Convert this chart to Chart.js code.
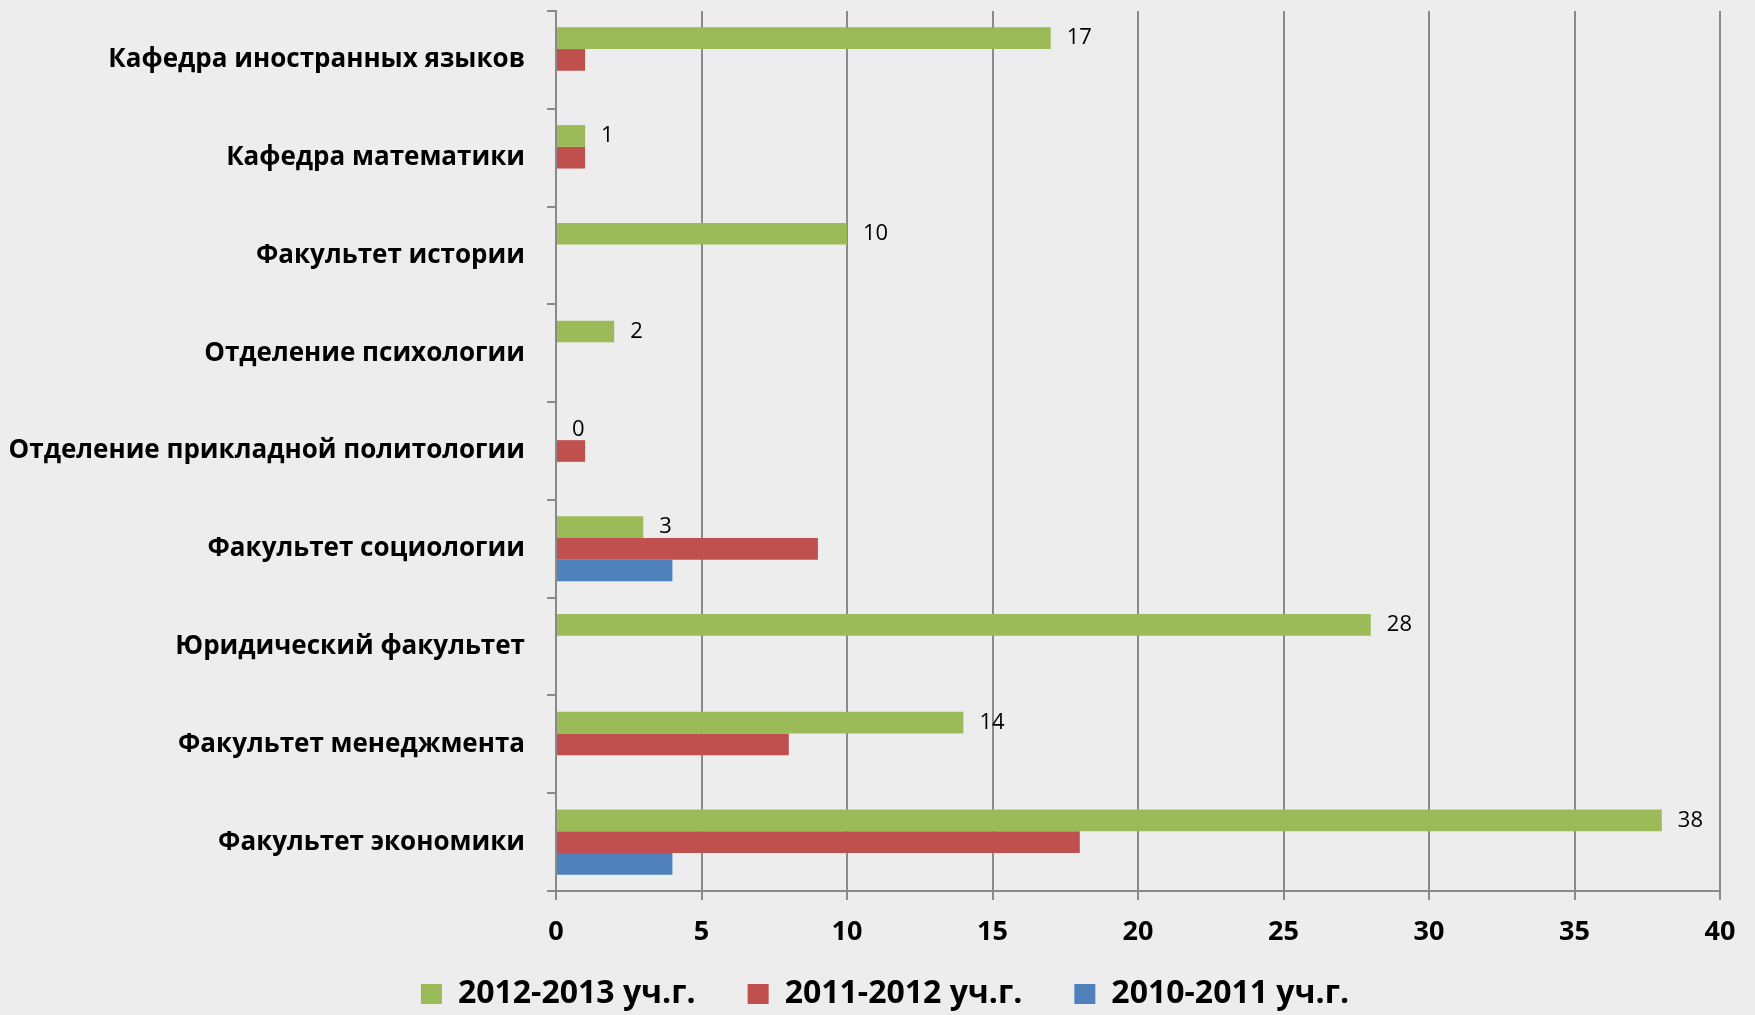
<!DOCTYPE html>
<html>
<head>
<meta charset="utf-8">
<script src="https://cdn.jsdelivr.net/npm/chart.js@4.4.1/dist/chart.umd.min.js"></script>
<style>
html,body{margin:0;padding:0;background:#ededed;}
#wrap{width:1755px;height:1015px;position:relative;}
</style>
</head>
<body>
<div id="wrap"><canvas id="c" width="1755" height="1015"></canvas></div>
<script>
const categories = [
  "Кафедра иностранных языков",
  "Кафедра математики",
  "Факультет истории",
  "Отделение психологии",
  "Отделение прикладной политологии",
  "Факультет социологии",
  "Юридический факультет",
  "Факультет менеджмента",
  "Факультет экономики"
];
const seriesNames = ["2012-2013 уч.г.", "2011-2012 уч.г.", "2010-2011 уч.г."];
const values2012 = [17, 1, 10, 2, 0, 3, 28, 14, 38];
const values2011 = [1, 1, 0, 0, 1, 9, 0, 8, 18];
const values2010 = [0, 0, 0, 0, 0, 4, 0, 0, 4];
const xTicks = [0, 5, 10, 15, 20, 25, 30, 35, 40];

const colors = ["#9BBB59", "#C0504D", "#4F81BD"];
const LEGEND_H = 89;
const PAD_LEFT = 50;

const valueLabels = {
  id: "valueLabels",
  afterDatasetsDraw(chart) {
    const ctx = chart.ctx;
    const meta = chart.getDatasetMeta(0);
    ctx.save();
    ctx.font = "22px 'Open Sans', sans-serif";
    ctx.fillStyle = "#000";
    ctx.textAlign = "left";
    ctx.textBaseline = "middle";
    meta.data.forEach((bar, i) => {
      ctx.fillText(String(chart.data.datasets[0].data[i]), bar.x + 16, bar.y);
    });
    ctx.restore();
  }
};

new Chart(document.getElementById("c"), {
  type: "bar",
  data: {
    labels: categories,
    datasets: [
      { label: seriesNames[0], data: values2012, backgroundColor: colors[0] },
      { label: seriesNames[1], data: values2011, backgroundColor: colors[1] },
      { label: seriesNames[2], data: values2010, backgroundColor: colors[2] }
    ]
  },
  options: {
    indexAxis: "y",
    responsive: false,
    animation: false,
    layout: { padding: { left: PAD_LEFT, right: 35, top: 11, bottom: 0 } },
    datasets: { bar: { categoryPercentage: 0.666, barPercentage: 1.0 } },
    scales: {
      x: {
        min: 0, max: 40,
        afterBuildTicks(s) { s.ticks = xTicks.map(v => ({ value: v })); },
        afterFit(s) {
          s.height = 124 - LEGEND_H;
          s._computeLabelArea = () => null;
        },
        grid: { color: "#8a8a8a", lineWidth: 2, tickLength: 9, drawOnChartArea: true },
        border: { color: "#8a8a8a", width: 2 },
        ticks: {
          color: "#000",
          padding: 16,
          font: { family: "'Open Sans', sans-serif", weight: "bold", size: 27 }
        }
      },
      y: {
        afterFit(s) {
          s.width = 556 - PAD_LEFT;
          s.paddingTop = 0;
          s.paddingBottom = 0;
          s._computeLabelArea = () => null;
        },
        grid: { offset: true, drawOnChartArea: false, color: "#8a8a8a", lineWidth: 2, tickLength: 9 },
        border: { color: "#8a8a8a", width: 2 },
        ticks: {
          color: "#000",
          padding: 22,
          font: { family: "'Open Sans', sans-serif", weight: "bold", size: 26 }
        }
      }
    },
    plugins: {
      legend: {
        position: "bottom",
        maxHeight: LEGEND_H,
        labels: {
          color: "#000",
          boxWidth: 21,
          boxHeight: 20,
          padding: 52,
          font: { family: "'Open Sans', sans-serif", weight: "bold", size: 32 }
        }
      },
      tooltip: { enabled: false }
    }
  },
  plugins: [valueLabels]
});
</script>
</body>
</html>
